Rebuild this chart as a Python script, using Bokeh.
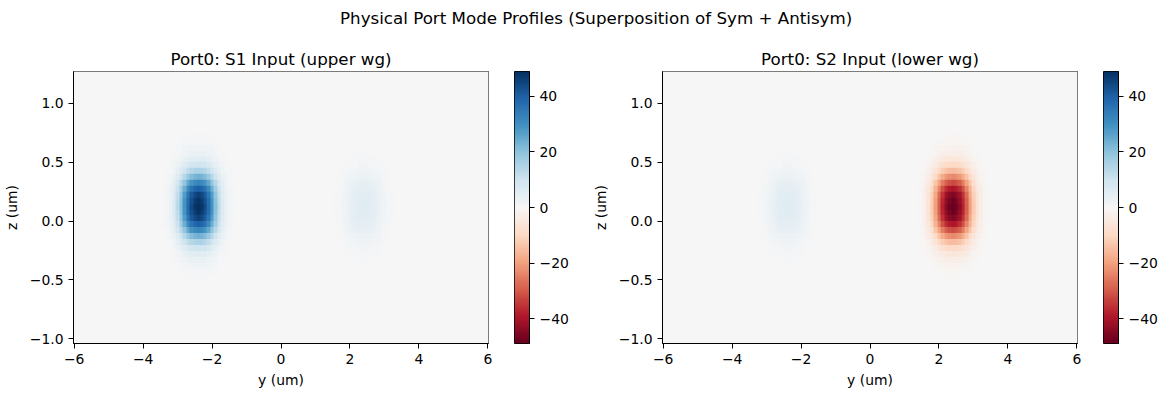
import numpy as np
from bokeh.plotting import figure
from bokeh.models import (LinearColorMapper, FixedTicker, Div, Range1d,
                          CustomJSTickFormatter)
from bokeh.layouts import row, column
from bokeh.palettes import interp_palette
from bokeh.embed import file_html
from bokeh.resources import INLINE

# ---------------- data ----------------
suptitle = "Physical Port Mode Profiles (Superposition of Sym + Antisym)"
panel_titles = ["Port0: S1 Input (upper wg)", "Port0: S2 Input (lower wg)"]
x_label = "y (um)"
y_label = "z (um)"

y_lim = [-6.02, 6.02]
z_lim = [-1.04, 1.27]
x_ticks = [-6, -4, -2, 0, 2, 4, 6]
x_tick_labels = ["\u22126", "\u22124", "\u22122", "0", "2", "4", "6"]
z_ticks = [-1.0, -0.5, 0.0, 0.5, 1.0]
z_tick_labels = ["\u22121.0", "\u22120.5", "0.0", "0.5", "1.0"]
cb_ticks = [-40, -20, 0, 20, 40]
cb_tick_labels = ["\u221240", "\u221220", "0", "20", "40"]
cb_limit = 49.0

# waveguide centres (um) and field amplitude at each waveguide, per panel
wg_y = [-2.4, 2.4]
wg_z = 0.12
amp_s1 = [49.0, 6.0]
amp_s2 = [6.0, -49.0]

# mode cross-section (relative amplitude)
y_step = 0.1   # offsets -1.0 .. 1.0 um
y_profile = [0.01, 0.03, 0.07, 0.14, 0.26, 0.42, 0.60, 0.78, 0.90, 0.97, 1.00,
             0.97, 0.90, 0.78, 0.60, 0.42, 0.26, 0.14, 0.07, 0.03, 0.01]
z_step = 0.05  # offsets -0.6 .. 0.6 um
z_profile = [0.01, 0.02, 0.04, 0.07, 0.12, 0.20, 0.32, 0.48, 0.66, 0.82, 0.93, 0.98, 1.00,
             0.98, 0.93, 0.82, 0.66, 0.48, 0.32, 0.20, 0.12, 0.07, 0.04, 0.02, 0.01]

rdbu = ['#67001f', '#b2182b', '#d6604d', '#f4a582', '#fddbc7', '#f7f7f7',
        '#d1e5f0', '#92c5de', '#4393c3', '#2166ac', '#053061']

# ---------------- grid ----------------
ny = 121  # cells centred at -6.0 .. 6.0
nz = 47   # cells centred at wg_z-23*dz .. wg_z+23*dz
y0 = -6.0
kz0 = 23


def build_field(amps):
    f = np.zeros((nz, ny))
    prof = np.outer(np.array(z_profile), np.array(y_profile))
    hz = len(z_profile) // 2
    hy = len(y_profile) // 2
    for yc, a in zip(wg_y, amps):
        j = int(round((yc - y0) / y_step))
        f[kz0 - hz:kz0 + hz + 1, j - hy:j + hy + 1] += a * prof
    return f


fields = [build_field(amp_s1), build_field(amp_s2)]
img_x = y0 - y_step / 2
img_dw = ny * y_step
img_y = wg_z - kz0 * z_step - z_step / 2
img_dh = nz * z_step

palette = interp_palette(rdbu, 256)
FONT = "DejaVu Sans"
FW, FH = 415, 272
TOP, BOTTOM = 33, 45


def fmt(ticks, labels):
    return CustomJSTickFormatter(args=dict(tv=ticks, tl=labels), code="""
        for (let i = 0; i < tv.length; i++) {
            if (Math.abs(tv[i] - tick) < 1e-9) return tl[i];
        }
        return String(tick);
    """)


def style_axis(ax, label_standoff):
    ax.axis_line_color = "black"
    ax.major_tick_line_color = "black"
    ax.major_tick_in = 0
    ax.major_tick_out = 5
    ax.minor_tick_line_color = None
    ax.major_label_text_font = FONT
    ax.major_label_text_font_size = "13.9px"
    ax.major_label_text_color = "black"
    ax.axis_label_text_font = FONT
    ax.axis_label_text_font_size = "13.9px"
    ax.axis_label_text_font_style = "normal"
    ax.axis_label_text_color = "black"
    ax.major_label_standoff = 5
    ax.axis_label_standoff = label_standoff


def make_panel(field, title, mb_left, mapper):
    p = figure(output_backend="svg", toolbar_location=None,
               x_range=Range1d(*y_lim), y_range=Range1d(*z_lim),
               frame_width=FW, frame_height=FH,
               min_border_left=mb_left, min_border_right=26,
               min_border_top=TOP, min_border_bottom=BOTTOM,
               background_fill_color="white", border_fill_color="white",
               title=title)
    p.image(image=[field], x=img_x, y=img_y, dw=img_dw, dh=img_dh,
            color_mapper=mapper)
    p.xgrid.visible = False
    p.ygrid.visible = False
    p.outline_line_color = "black"
    p.outline_line_width = 1
    p.outline_line_alpha = 1

    p.title.align = "center"
    p.title.text_font = FONT
    p.title.text_font_size = "16.7px"
    p.title.text_font_style = "normal"
    p.title.text_color = "black"
    p.title.standoff = 6

    style_axis(p.xaxis[0], 5)
    style_axis(p.yaxis[0], 7)
    p.xaxis.ticker = FixedTicker(ticks=x_ticks)
    p.xaxis.formatter = fmt(x_ticks, x_tick_labels)
    p.xaxis.axis_label = x_label
    p.yaxis.ticker = FixedTicker(ticks=z_ticks)
    p.yaxis.formatter = fmt(z_ticks, z_tick_labels)
    p.yaxis.axis_label = y_label
    return p


def make_colorbar(mapper, mb_right):
    c = figure(output_backend="svg", toolbar_location=None,
               x_range=Range1d(0, 1), y_range=Range1d(-cb_limit, cb_limit),
               frame_width=15, frame_height=FH,
               min_border_left=0, min_border_right=mb_right,
               min_border_top=TOP, min_border_bottom=BOTTOM,
               x_axis_location=None, y_axis_location="right",
               background_fill_color="white", border_fill_color="white")
    ramp = np.linspace(-cb_limit, cb_limit, 256).reshape(256, 1)
    c.image(image=[ramp], x=0, y=-cb_limit, dw=1, dh=2 * cb_limit,
            color_mapper=mapper)
    c.xgrid.visible = False
    c.ygrid.visible = False
    c.outline_line_color = "black"
    c.outline_line_width = 1
    style_axis(c.yaxis[0], 0)
    c.yaxis.ticker = FixedTicker(ticks=cb_ticks)
    c.yaxis.formatter = fmt(cb_ticks, cb_tick_labels)
    return c


mappers = [LinearColorMapper(palette=palette, low=-cb_limit, high=cb_limit)
           for _ in range(2)]

p1 = make_panel(fields[0], panel_titles[0], 73, mappers[0])
c1 = make_colorbar(mappers[0], 60)
p2 = make_panel(fields[1], panel_titles[1], 72, mappers[1])
c2 = make_colorbar(mappers[1], 40)

head = Div(text=('<div style="font-family:\'DejaVu Sans\';font-size:16.7px;'
                 'line-height:20px;color:black;white-space:nowrap;'
                 'padding-top:8px;padding-left:340px;">' + suptitle + '</div>'),
           width=1157, height=38, margin=0)

layout = column(head, row(p1, c1, p2, c2, spacing=0), spacing=0)

open("out.html", "w").write(file_html(layout, INLINE))
